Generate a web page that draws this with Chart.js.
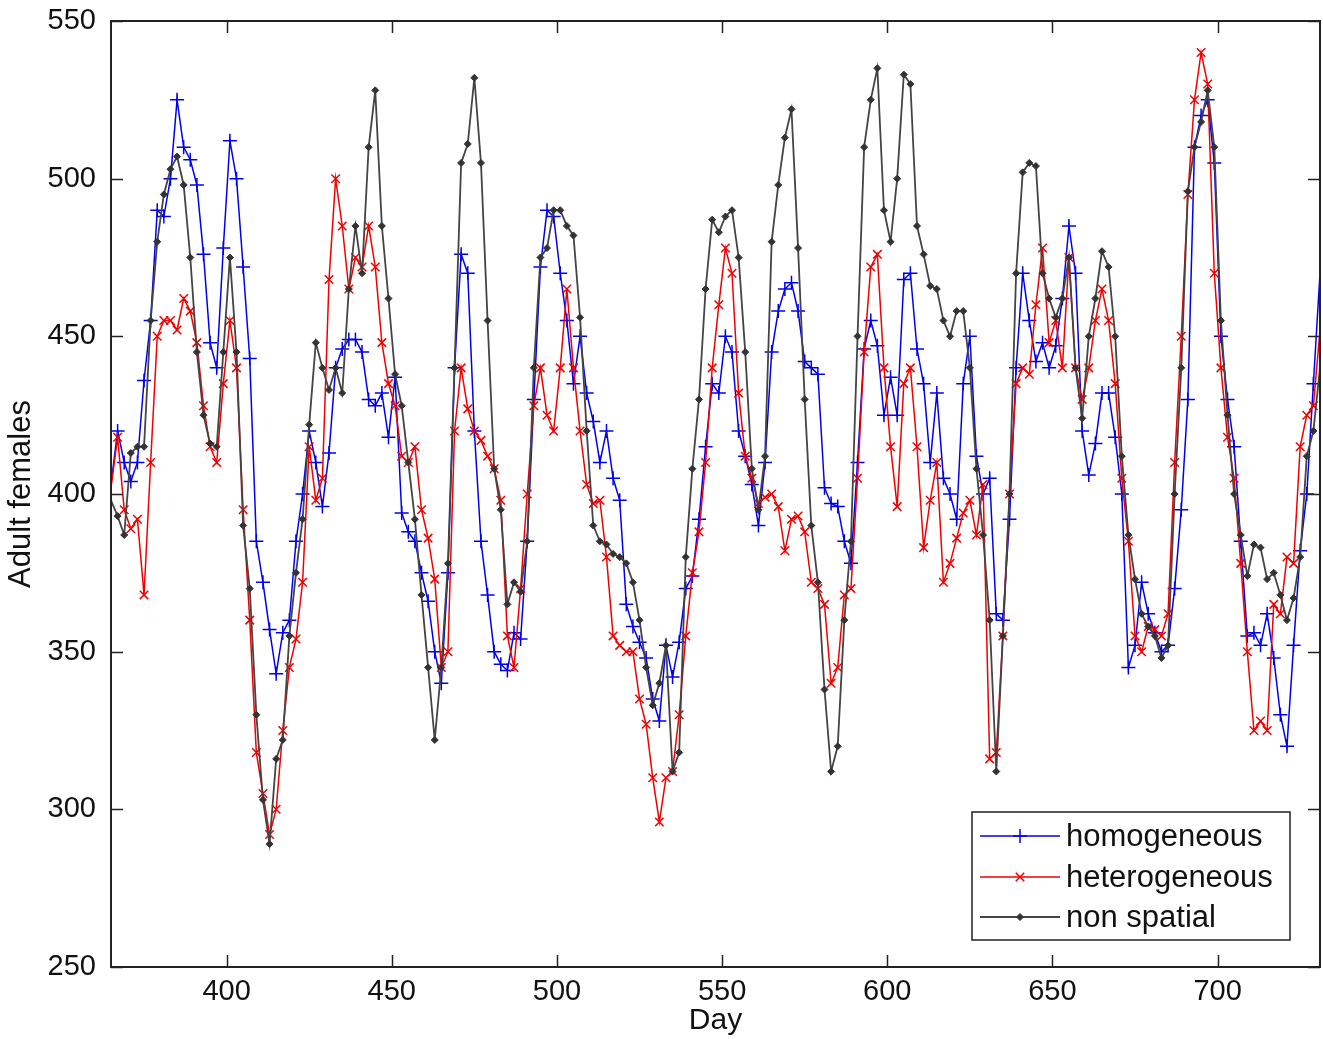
<!DOCTYPE html>
<html>
<head>
<meta charset="utf-8">
<title>Adult females</title>
<script src="https://cdn.jsdelivr.net/npm/chart.js@4.4.0/dist/chart.umd.min.js"></script>
<style>
    html, body { margin: 0; padding: 0; background: #fff; }
    canvas { display: block; }
</style>
</head>
<body>
<canvas id="chart" width="1323" height="1039"></canvas>
<script>
// Nilai, satu titik tiap 2 hari (hari 365 .. 731)
const homogeneous = [
    403, 420, 410, 404, 410, 436, 455, 490, 488, 500,
    525, 510, 506, 498, 476, 448, 440, 478, 512, 500,
    472, 443, 385, 372, 357, 343, 356, 360, 385, 400,
    420, 410, 396, 413, 440, 446, 449, 449, 445, 430,
    428, 432, 418, 437, 394, 388, 385, 375, 366, 350,
    340, 375, 440, 476, 470, 420, 385, 368, 350, 346,
    344, 356, 354, 385, 430, 472, 490, 488, 470, 455,
    435, 450, 432, 423, 410, 420, 405, 398, 365, 358,
    353, 348, 335, 328, 352, 342, 353, 370, 374, 392,
    415, 435, 432, 450, 445, 420, 412, 403, 390, 410,
    445, 458, 465, 467, 458, 442, 440, 438, 402, 397,
    396, 385, 378, 410, 446, 455, 447, 425, 437, 425,
    468, 470, 446, 435, 410, 432, 405, 400, 392, 435,
    450, 412, 400, 405, 362, 360, 392, 440, 470, 455,
    442, 448, 440, 447, 462, 485, 470, 420, 406, 416,
    432, 432, 418, 400, 345, 352, 372, 362, 356, 350,
    352, 370, 395, 430, 510, 520, 525, 505, 450, 430,
    415, 385, 355, 356, 352, 362, 348, 330, 320, 352,
    382, 400, 435, 470
];

const heterogeneous = [
    402, 418, 395, 389, 392, 368, 410, 450, 455, 455,
    452, 462, 458, 448, 428, 415, 410, 435, 455, 440,
    395, 360, 318, 305, 292, 300, 325, 345, 354, 372,
    415, 398, 405, 468, 500, 485, 465, 475, 472, 485,
    472, 448, 435, 428, 412, 410, 415, 395, 386, 373,
    345, 350, 420, 440, 427, 420, 417, 412, 408, 398,
    355, 345, 370, 400, 428, 440, 425, 420, 440, 465,
    440, 420, 403, 397, 398, 380, 355, 352, 350, 350,
    335, 327, 310, 296, 310, 312, 330, 355, 375, 388,
    410, 440, 460, 478, 470, 432, 412, 405, 397, 399,
    400, 396, 382, 392, 393, 388, 372, 370, 365, 340,
    345, 368, 370, 405, 445, 472, 476, 440, 415, 396,
    435, 440, 415, 383, 398, 410, 372, 378, 386, 394,
    398, 387, 403, 316, 318, 355, 400, 435, 440, 438,
    460, 478, 448, 455, 440, 475, 440, 430, 440, 455,
    465, 455, 435, 405, 385, 355, 350, 358, 357, 355,
    362, 410, 450, 495, 525, 540, 530, 470, 440, 418,
    405, 378, 350, 325, 328, 325, 365, 362, 380, 378,
    415, 425, 428, 452
];

const nonSpatial = [
    398, 393, 387, 413, 415, 415, 455, 480, 495, 503,
    507, 498, 475, 445, 425, 416, 415, 445, 475, 445,
    390, 370, 330, 303, 289, 316, 322, 355, 375, 392,
    422, 448, 440, 433, 440, 432, 465, 485, 470, 510,
    528, 485, 462, 438, 428, 410, 392, 368, 345, 322,
    345, 378, 440, 505, 511, 532, 505, 455, 408, 395,
    365, 372, 369, 385, 440, 475, 478, 490, 490, 485,
    482, 456, 420, 390, 385, 384, 381, 380, 378, 372,
    360, 345, 333, 340, 352, 312, 318, 380, 408, 430,
    465, 487, 483, 488, 490, 475, 445, 408, 395, 412,
    480, 498, 513, 522, 478, 430, 390, 372, 338, 312,
    320, 360, 385, 450, 510, 525, 535, 490, 480, 500,
    533, 530, 485, 476, 466, 465, 455, 450, 458, 458,
    440, 408, 387, 360, 312, 355, 400, 470, 502, 505,
    504, 470, 462, 456, 462, 475, 440, 424, 450, 462,
    477, 472, 450, 412, 387, 373, 362, 358, 355, 348,
    352, 400, 440, 496, 510, 518, 528, 510, 455, 425,
    400, 387, 374, 384, 383, 373, 375, 368, 360, 367,
    380, 412, 420, 440
];

// hari ke-365, 367, ... (tiap 2 hari)
const days = homogeneous.map((_, i) => 365 + 2 * i);

const xTicks = [400, 450, 500, 550, 600, 650, 700];
const yTicks = [250, 300, 350, 400, 450, 500, 550];

const FONT = 'Liberation Sans, Arial, Helvetica, sans-serif';

function toPoints(values) {
    return values.map((v, i) => ({ x: days[i], y: v }));
}

// Titik pertama/terakhir tanpa marker supaya Chart.js tidak menambah padding di tepi
function markerRadius(r) {
    return ctx => (ctx.dataIndex === 0 || ctx.dataIndex === days.length - 1) ? 0 : r;
}

// Bingkai + tick ke dalam (gaya MATLAB)
const frameTicks = {
    id: 'frameTicks',
    afterDatasetsDraw(chart) {
        const { ctx, chartArea: a, scales } = chart;
        const len = 12;
        ctx.save();
        ctx.strokeStyle = '#222';
        ctx.lineWidth = 1.5;
        ctx.beginPath();
        xTicks.forEach(v => {
            const x = Math.round(scales.x.getPixelForValue(v)) + 0.5;
            ctx.moveTo(x, a.bottom); ctx.lineTo(x, a.bottom - len);
            ctx.moveTo(x, a.top); ctx.lineTo(x, a.top + len);
        });
        yTicks.forEach(v => {
            const y = Math.round(scales.y.getPixelForValue(v)) + 0.5;
            ctx.moveTo(a.left, y); ctx.lineTo(a.left + len, y);
            ctx.moveTo(a.right, y); ctx.lineTo(a.right - len, y);
        });
        ctx.stroke();
        ctx.lineWidth = 2;
        ctx.strokeRect(a.left, a.top, a.right - a.left, a.bottom - a.top);
        ctx.restore();
    }
};

// Legenda kotak di kanan bawah
const legendMarkers = [7, 6, 3.5];
const boxLegend = {
    id: 'boxLegend',
    afterDraw(chart) {
        const ctx = chart.ctx;
        const bx = 972, by = 812, bw = 318, bh = 128;
        ctx.save();
        ctx.fillStyle = '#fff';
        ctx.fillRect(bx, by, bw, bh);
        ctx.strokeStyle = '#222';
        ctx.lineWidth = 1.5;
        ctx.strokeRect(bx, by, bw, bh);
        ctx.font = '31px ' + FONT;
        ctx.textBaseline = 'middle';
        const rows = [836, 877, 917];
        chart.data.datasets.forEach((ds, i) => {
            const y = rows[i];
            ctx.strokeStyle = ds.borderColor;
            ctx.lineWidth = ds.borderWidth;
            ctx.beginPath();
            ctx.moveTo(980, y); ctx.lineTo(1060, y);
            ctx.stroke();
            ctx.fillStyle = ds.pointBackgroundColor;
            ctx.strokeStyle = ds.pointBorderColor;
            ctx.lineWidth = ds.pointBorderWidth;
            Chart.helpers.drawPoint(ctx, {
                pointStyle: ds.pointStyle,
                radius: legendMarkers[i],
                borderWidth: ds.pointBorderWidth,
                rotation: 0
            }, 1020, y);
            ctx.fillStyle = '#111';
            ctx.fillText(ds.label, 1066, y + 1);
        });
        ctx.restore();
    }
};

new Chart(document.getElementById('chart'), {
    type: 'line',
    data: {
        datasets: [
            {
                label: 'homogeneous',
                data: toPoints(homogeneous),
                borderColor: '#0000f0',
                borderWidth: 1.5,
                pointStyle: 'cross',
                pointRadius: markerRadius(7),
                pointHoverRadius: 0,
                pointBorderWidth: 1.5,
                pointBorderColor: '#0000f0',
                pointBackgroundColor: '#0000f0',
                order: 2
            },
            {
                label: 'heterogeneous',
                data: toPoints(heterogeneous),
                borderColor: '#f00000',
                borderWidth: 1.5,
                pointStyle: 'crossRot',
                pointRadius: markerRadius(6),
                pointHoverRadius: 0,
                pointBorderWidth: 1.5,
                pointBorderColor: '#f00000',
                pointBackgroundColor: '#f00000',
                order: 1
            },
            {
                label: 'non spatial',
                data: toPoints(nonSpatial),
                borderColor: '#444',
                borderWidth: 1.8,
                pointStyle: 'rectRot',
                pointRadius: markerRadius(3.5),
                pointHoverRadius: 0,
                pointBorderWidth: 1,
                pointBorderColor: '#333',
                pointBackgroundColor: '#333',
                order: 0
            }
        ]
    },
    options: {
        responsive: false,
        animation: false,
        events: [],
        elements: { line: { tension: 0 } },
        layout: { padding: { top: 21, right: 3, left: 0, bottom: 0 } },
        plugins: {
            legend: { display: false },
            tooltip: { enabled: false }
        },
        scales: {
            x: {
                type: 'linear',
                min: 365,
                max: 731,
                afterBuildTicks: s => { s.ticks = xTicks.map(v => ({ value: v })); },
                afterFit: s => { s.height = 72; },
                grid: { display: false },
                border: { display: false },
                ticks: {
                    font: { family: FONT, size: 29 },
                    color: '#111',
                    padding: 0,
                    maxRotation: 0
                },
                title: {
                    display: true,
                    text: 'Day',
                    font: { family: FONT, size: 30 },
                    color: '#111',
                    padding: { top: 0, bottom: 0 }
                }
            },
            y: {
                min: 250,
                max: 550,
                afterBuildTicks: s => { s.ticks = yTicks.map(v => ({ value: v })); },
                afterFit: s => { s.width = 111; },
                grid: { display: false },
                border: { display: false },
                ticks: {
                    font: { family: FONT, size: 29, lineHeight: 0.95 },
                    color: '#111',
                    padding: 7
                },
                title: {
                    display: true,
                    text: 'Adult females',
                    font: { family: FONT, size: 31 },
                    color: '#111',
                    padding: { top: 3, bottom: 0 }
                }
            }
        }
    },
    plugins: [frameTicks, boxLegend]
});
</script>
</body>
</html>
